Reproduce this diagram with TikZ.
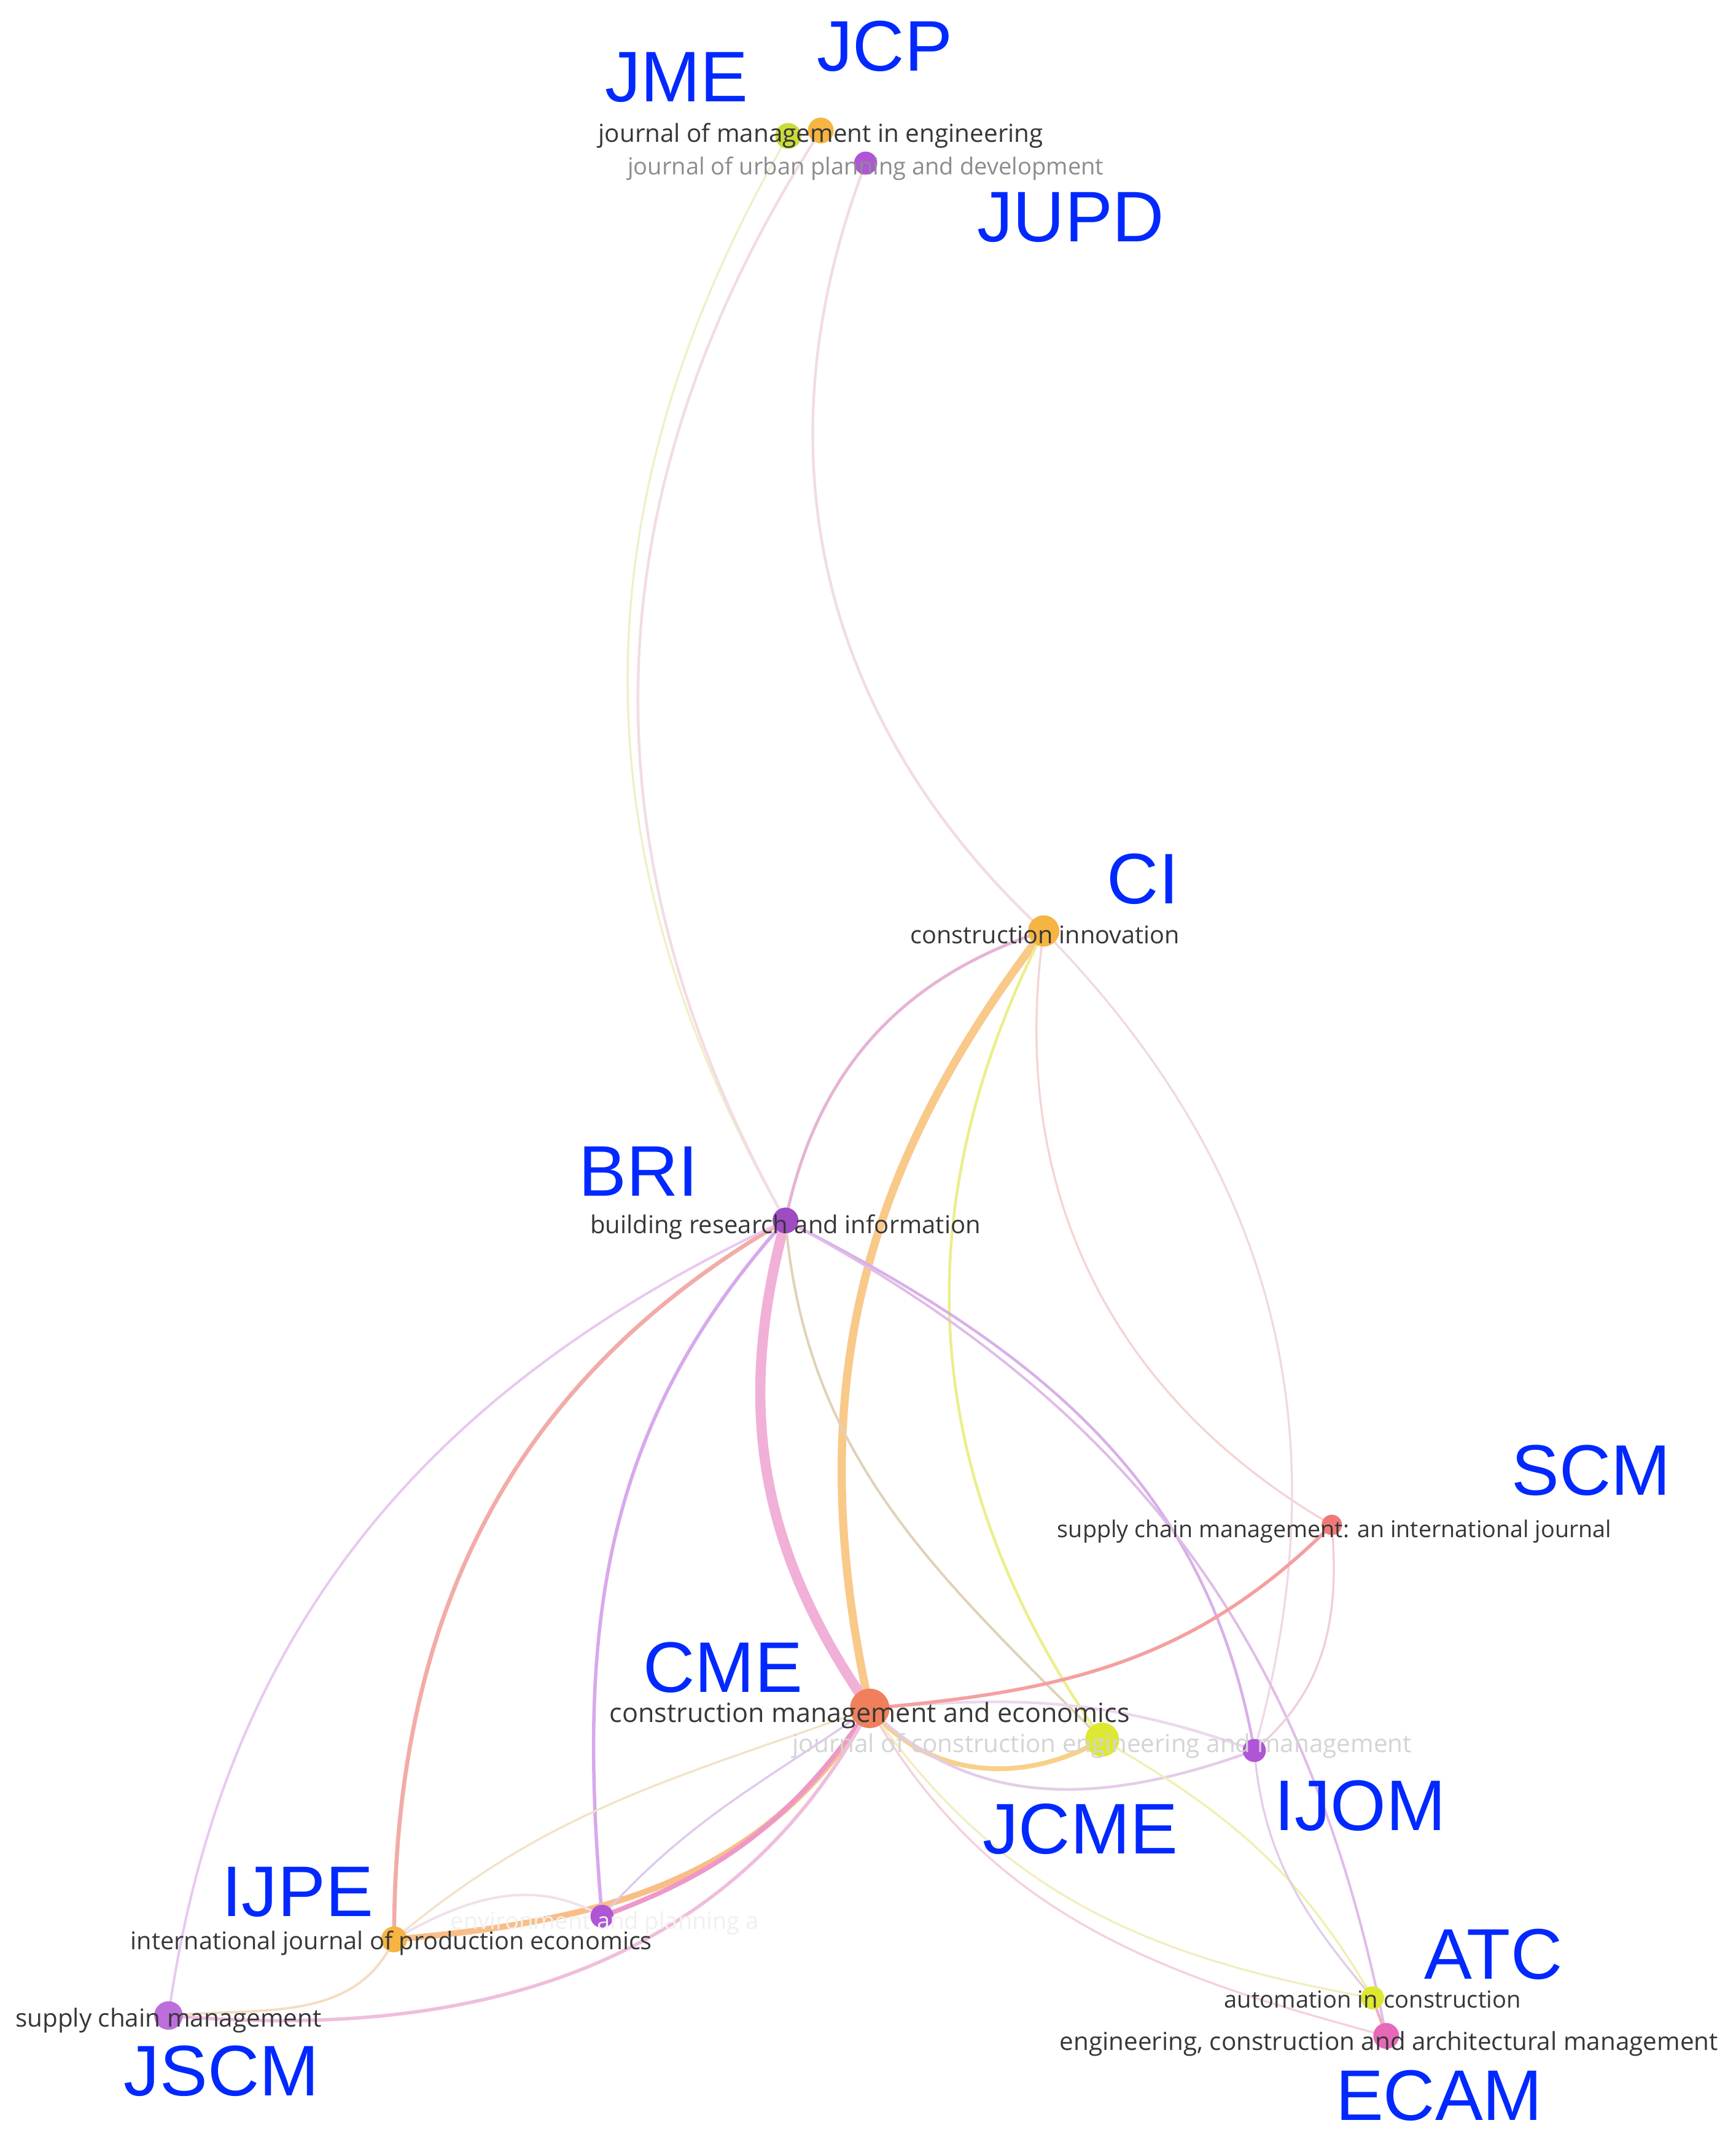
\documentclass[tikz,border=0pt]{standalone}
\usepackage{fontspec}
\setmainfont{Open Sans}
\newfontfamily\abbrfont{Liberation Sans}
\definecolor{abbrblue}{RGB}{0,40,255}
\definecolor{cYG}{HTML}{CADC3C}
\definecolor{cOR}{HTML}{F6B442}
\definecolor{cPU}{HTML}{B055D6}
\definecolor{cRD}{HTML}{F07A7A}
\definecolor{cSA}{HTML}{F0805C}
\definecolor{cYE}{HTML}{DDE832}
\definecolor{cPK}{HTML}{E868B8}
\definecolor{labgray}{HTML}{363636}
\definecolor{eA}{HTML}{EEF0C8}
\definecolor{eB}{HTML}{F3DCE4}
\definecolor{eC}{HTML}{F2DCE4}
\definecolor{eD}{HTML}{F9C98A}
\definecolor{eE}{HTML}{F0B0D8}
\definecolor{eF}{HTML}{E6B4D4}
\definecolor{eG}{HTML}{ECEE8A}
\definecolor{eH}{HTML}{F4D4D4}
\definecolor{eI}{HTML}{F0D8E4}
\definecolor{eJ}{HTML}{D8B0E8}
\definecolor{eK}{HTML}{E0BCE8}
\definecolor{eL}{HTML}{E0D2B8}
\definecolor{eM}{HTML}{F2ACA8}
\definecolor{eN}{HTML}{E8C8F0}
\definecolor{eO}{HTML}{D8A8EC}
\definecolor{eP}{HTML}{F9BE88}
\definecolor{eQ}{HTML}{EE98C8}
\definecolor{eR}{HTML}{EFBEDC}
\definecolor{eS}{HTML}{F4DCC4}
\definecolor{eT}{HTML}{F2E2C8}
\definecolor{eU}{HTML}{F0E0EC}
\definecolor{eV}{HTML}{E0C8EC}
\definecolor{eW}{HTML}{F8D088}
\definecolor{eX}{HTML}{ECD8EC}
\definecolor{eY}{HTML}{E4CCE8}
\definecolor{eZ}{HTML}{F4A0A0}
\definecolor{fA}{HTML}{F0CCE0}
\definecolor{fB}{HTML}{F0F0B0}
\definecolor{fC}{HTML}{F4D0DC}
\definecolor{fD}{HTML}{F2EEC0}
\definecolor{fE}{HTML}{F0B0C0}
\pgfdeclarelayer{edges}
\pgfsetlayers{edges,main}
\tikzset{
  dot/.style 2 args={circle,inner sep=0pt,minimum size=#1,fill=#2},
  lab/.style={anchor=mid,inner sep=0pt,text=labgray},
  abbr/.style={anchor=base,inner sep=0pt,text=abbrblue,font=\abbrfont\fontsize{15}{18}\selectfont},
  edge/.style 2 args={draw=#1,line width=#2},
}
\newcommand{\fs}[1]{\fontsize{#1}{#1}\selectfont}
\begin{document}
\begin{tikzpicture}[x=0.1mm,y=0.1mm]
\useasboundingbox (0,0) rectangle (1277,-1568);
% nodes
\node[dot={1.9mm}{cYG}] (JME) at (580,-100) {};
\node[dot={1.9mm}{cOR}] (JCP) at (604,-96) {};
\node[dot={1.7mm}{cPU}] (JUPD) at (637,-120) {};
\node[dot={2.3mm}{cOR}] (CI) at (768,-685) {};
\node[dot={1.9mm}{cPU!90!black}] (BRI) at (578,-898) {};
\node[dot={1.5mm}{cRD}] (SCM) at (980,-1122) {};
\node[dot={2.9mm}{cSA}] (CME) at (640,-1257) {};
\node[dot={2.5mm}{cYE}] (JCEM) at (811,-1280) {};
\node[dot={1.7mm}{cPU}] (IJOM) at (923,-1288) {};
\node[dot={1.9mm}{cOR}] (IJPE) at (290,-1427) {};
\node[dot={1.7mm}{cPU}] (ENV) at (443,-1410) {};
\node[dot={2.1mm}{cPU!85!white}] (JSCM) at (124,-1483) {};
\node[dot={1.7mm}{cYE}] (ATC) at (1010,-1470) {};
\node[dot={1.9mm}{cPK}] (ECAM) at (1020,-1498) {};
% edges
\begin{pgfonlayer}{edges}
\fill[white] (0,0) rectangle (1277,-1568);
\draw[edge={eA}{0.15mm}] (JME.center) to[bend right=30] (BRI.center);
\draw[edge={eB}{0.2mm}] (JCP.center) to[bend right=31] (BRI.center);
\draw[edge={eC}{0.2mm}] (JUPD.center) to[bend right=34] (CI.center);
\draw[edge={eD}{0.6mm}] (CI.center) to[bend right=25] (CME.center);
\draw[edge={eE}{0.75mm}] (BRI.center) to[bend right=25] (CME.center);
\draw[edge={eF}{0.22mm}] (CI.center) to[bend right=30] (BRI.center);
\draw[edge={eG}{0.2mm}] (CI.center) to[bend right=31] (JCEM.center);
\draw[edge={eH}{0.15mm}] (CI.center) to[bend right=34] (SCM.center);
\draw[edge={eI}{0.15mm}] (CI.center) to[bend left=30] (IJOM.center);
\draw[edge={eJ}{0.2mm}] (BRI.center) to[out=-27,in=100] (IJOM.center);
\draw[edge={eK}{0.18mm}] (BRI.center) to[out=-28,in=101] (ECAM.center);
\draw[edge={eL}{0.18mm}] (BRI.center) to[out=-85,in=135] (JCEM.center);
\draw[edge={eM}{0.3mm}] (BRI.center) to[out=210,in=90] (IJPE.center);
\draw[edge={eN}{0.18mm}] (BRI.center) to[out=205,in=82] (JSCM.center);
\draw[edge={eO}{0.25mm}] (BRI.center) to[out=228,in=95] (ENV.center);
\draw[edge={eP}{0.45mm}] (CME.center) to[out=238,in=5] (IJPE.center);
\draw[edge={eQ}{0.35mm}] (CME.center) to[out=235,in=20] (ENV.center);
\draw[edge={eR}{0.25mm}] (CME.center) to[out=242,in=-5] (JSCM.center);
\draw[edge={eS}{0.18mm}] (IJPE.center) to[out=245,in=5] (JSCM.center);
\draw[edge={eT}{0.15mm}] (IJPE.center) to[out=40,in=200] (CME.center);
\draw[edge={eU}{0.18mm}] (ENV.center) to[out=150,in=30] (IJPE.center);
\draw[edge={eV}{0.15mm}] (ENV.center) to[out=48,in=215] (CME.center);
\draw[edge={eW}{0.35mm}] (CME.center) to[out=-50,in=210] (JCEM.center);
\draw[edge={eX}{0.2mm}] (CME.center) to[out=5,in=160] (IJOM.center);
\draw[edge={eY}{0.2mm}] (CME.center) to[out=-45,in=200] (IJOM.center);
\draw[edge={eZ}{0.25mm}] (SCM.center) to[out=225,in=5] (CME.center);
\draw[edge={fA}{0.15mm}] (SCM.center) to[out=-85,in=40] (IJOM.center);
\draw[edge={fB}{0.15mm}] (JCEM.center) to[out=-30,in=120] (ATC.center);
\draw[edge={fC}{0.15mm}] (CME.center) to[out=-60,in=165] (ECAM.center);
\draw[edge={fD}{0.15mm}] (CME.center) to[out=-55,in=170] (ATC.center);
\draw[edge={eY}{0.15mm}] (IJOM.center) to[out=-85,in=130] (ATC.center);
\draw[edge={fE}{0.2mm}] (ATC.center) -- (ECAM.center);
\end{pgfonlayer}
% gray labels
\node[lab,font=\fs{5.2}] (lJME) at (604,-95) {journal of management in engineering};
\node[lab,font=\fs{4.9},text=black!45] (lJUPD) at (637,-119) {journal of urban planning and development};
\node[lab,font=\fs{5.1}] (lCI) at (769,-685) {construction innovation};
\node[lab,font=\fs{5.15}] (lBRI) at (578,-898) {building research and information};
\node[lab,font=\fs{4.85}] (lSCM) at (982,-1122) {supply chain management: an international journal};
\node[lab,font=\fs{5.55},text=black!78] (lCME) at (640,-1258) {construction management and economics};
\node[lab,font=\fs{5.2},text=black!17] (lJCEM) at (811,-1280) {journal of construction engineering and management};
\node[lab,font=\fs{4.9},text=black!6] (lENV) at (445,-1410) {environment and planning a};
\node[lab,font=\fs{5.1}] (lIJPE) at (288,-1425) {international journal of production economics};
\node[lab,font=\fs{5.2}] (lJSCM) at (124,-1482) {supply chain management};
\node[lab,font=\fs{4.9}] (lATC) at (1010,-1468) {automation in construction};
\node[lab,font=\fs{5.2}] (lECAM) at (1022,-1499) {engineering, construction and architectural management};
% blue abbreviations
\node[abbr] (aJME) at (498,-75) {JME};
\node[abbr] (aJCP) at (651,-52) {JCP};
\node[abbr] (aJUPD) at (788,-178) {JUPD};
\node[abbr] (aCI) at (841,-665) {CI};
\node[abbr] (aBRI) at (470,-880) {BRI};
\node[abbr] (aSCM) at (1171,-1100) {SCM};
\node[abbr] (aCME) at (532,-1245) {CME};
\node[abbr] (aJCME) at (795,-1364) {JCME};
\node[abbr] (aIJOM) at (1001,-1347) {IJOM};
\node[abbr] (aIJPE) at (219,-1410) {IJPE};
\node[abbr] (aJSCM) at (163,-1542) {JSCM};
\node[abbr] (aATC) at (1099,-1456) {ATC};
\node[abbr] (aECAM) at (1059,-1560) {ECAM};
\end{tikzpicture}
\end{document}
